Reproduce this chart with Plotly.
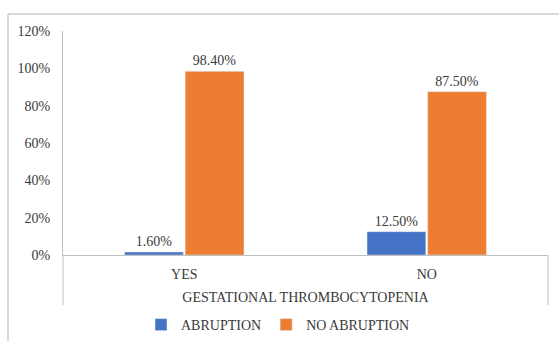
import plotly.graph_objects as go

categories = ["YES", "NO"]
abruption = [1.6, 12.5]
no_abruption = [98.4, 87.5]
series_names = ["ABRUPTION", "NO ABRUPTION"]
y_ticks = [0, 20, 40, 60, 80, 100, 120]
y_tick_labels = [f"{v}%" for v in y_ticks]
x_title = "GESTATIONAL THROMBOCYTOPENIA"

W, H = 559, 341
def px(x): return x / W
def py(y): return (H - y) / H

FONT = "Liberation Serif, Times New Roman, serif"
TXT = "#3a3a3a"
AX = "#bfbfbf"
FS = 14

fig = go.Figure()
fig.add_bar(x=categories, y=abruption, name=series_names[0],
            marker_color="#4472C4",
            text=[f"{v:.2f}%" for v in abruption], textposition="outside",
            textfont=dict(family=FONT, size=FS, color=TXT), cliponaxis=False)
fig.add_bar(x=categories, y=no_abruption, name=series_names[1],
            marker_color="#ED7D31",
            text=[f"{v:.2f}%" for v in no_abruption], textposition="outside",
            textfont=dict(family=FONT, size=FS, color=TXT), cliponaxis=False)

fig.update_layout(
    width=W, height=H, margin=dict(l=0, r=0, t=0, b=0, autoexpand=False),
    paper_bgcolor="white", plot_bgcolor="white",
    barmode="group", bargap=0.5, bargroupgap=0.03,
    font=dict(family=FONT, size=FS, color=TXT),
    showlegend=True,
    legend=dict(orientation="h", x=px(141), xanchor="left", y=py(325), yanchor="middle",
                font=dict(family=FONT, size=FS, color=TXT), itemwidth=30,
                traceorder="normal"),
    xaxis=dict(domain=[px(63), px(548)], showline=True, linecolor=AX, linewidth=1,
               showgrid=False, ticks="", tickfont=dict(family=FONT, size=FS, color=TXT),
               ticklabelstandoff=6, automargin=False,
               title=dict(text=x_title, standoff=11, font=dict(family=FONT, size=FS, color=TXT))),
    yaxis=dict(domain=[py(255), py(31)], range=[0, 120], tickvals=y_ticks, ticktext=y_tick_labels,
               showline=True, linecolor=AX, linewidth=1, showgrid=False, ticks="",
               zeroline=False, ticklabelstandoff=9, automargin=False,
               tickfont=dict(family=FONT, size=FS, color=TXT)),
    shapes=[
        dict(type="line", xref="paper", yref="paper", x0=px(8), x1=px(8), y0=py(341), y1=py(14),
             line=dict(color="#cccccc", width=1.5)),
        dict(type="line", xref="paper", yref="paper", x0=px(8), x1=px(559), y0=py(14), y1=py(14),
             line=dict(color="#cccccc", width=1.5)),
        dict(type="line", xref="paper", yref="paper", x0=px(63), x1=px(63), y0=py(305), y1=py(255),
             line=dict(color=AX, width=1)),
        dict(type="line", xref="paper", yref="paper", x0=px(548), x1=px(548), y0=py(305), y1=py(255),
             line=dict(color=AX, width=1)),
    ],
)

fig.write_html("out.html")
